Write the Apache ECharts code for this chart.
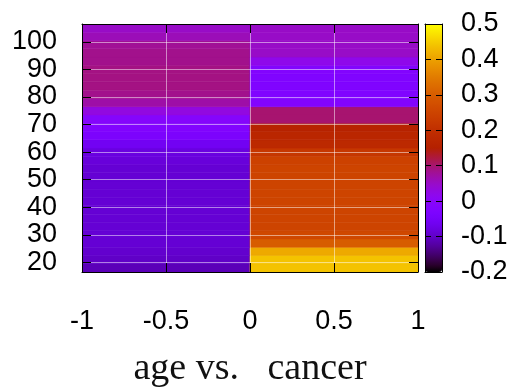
<!DOCTYPE html>
<html>
<head>
<meta charset="utf-8">
<script src="https://cdn.jsdelivr.net/npm/echarts@6/dist/echarts.min.js"></script>
<style>
html,body{margin:0;padding:0;background:#fff;}
#c{width:516px;height:387px;}
</style>
</head>
<body>
<div id="c"></div>
<script>
// ---- data ----
const ageCenters = [18,21,24,27,30,33,36,39,42,45,48,51,54,57,60,63,66,69,72,75,78,81,84,87,90,93,96,99,102,105];
const rowHeight = 3;
// correlation for x in [-1,0] (left column)
const leftValues = [-0.11,-0.10,-0.095,-0.09,-0.09,-0.09,-0.09,-0.09,-0.09,-0.09,-0.09,-0.09,-0.09,-0.085,-0.08,
                    -0.06,-0.035,-0.02,-0.01,0.03,0.07,0.085,0.09,0.09,0.09,0.085,0.085,0.08,0.06,0.05];
// correlation for x in [0,1] (right column)
const rightValues = [0.44,0.44,0.41,0.30,0.26,0.25,0.25,0.25,0.25,0.25,0.25,0.25,0.25,0.245,0.22,
                     0.18,0.17,0.16,0.10,0.10,-0.02,-0.025,-0.025,-0.025,-0.02,0.02,0.05,0.05,0.05,0.05];
const leftColumn = [-1, 0];
const rightColumn = [0, 1];
const yTicks = [20,30,40,50,60,70,80,90,100];
const yRange = [16.5, 106.5];
const xRange = [-1, 1];
const cbRange = [-0.2, 0.5];
const xTitle = 'age vs.   cancer';

// gnuplot default palette (rgbformulae 7,5,15)
function gp(t){
  const r = Math.sqrt(t), g = t*t*t, b = Math.max(0, Math.sin(2*Math.PI*t));
  return 'rgb(' + Math.round(r*255) + ',' + Math.round(g*255) + ',' + Math.round(b*255) + ')';
}
const palette = [];
for (let i = 0; i <= 40; i++) palette.push(gp(i/40));

const cells = [];
ageCenters.forEach((c, i) => {
  cells.push([leftColumn[0], leftColumn[1], c - rowHeight/2, c + rowHeight/2, leftValues[i]]);
  cells.push([rightColumn[0], rightColumn[1], c - rowHeight/2, c + rowHeight/2, rightValues[i]]);
});

const FONT = 'Liberation Sans';
const black = '#000';
const gridLine = {show:true, lineStyle:{color:'rgba(255,255,255,0.5)', width:1}};
const tickIn = (len) => ({show:true, inside:true, length:len, lineStyle:{color:black, width:1}});
const line = {show:true, onZero:false, lineStyle:{color:black, width:1}};

const chart = echarts.init(document.getElementById('c'), null, {renderer:'canvas'});
chart.setOption({
  animation:false,
  backgroundColor:'#fff',
  grid:[
    {left:82, top:24, width:336, height:248, containLabel:false, outerBoundsMode:'none'},
    {left:425, top:24, width:17, height:248, containLabel:false, outerBoundsMode:'none'}
  ],
  xAxis:[
    {gridIndex:0, type:'value', min:xRange[0], max:xRange[1], interval:0.5, position:'bottom', z:5,
     axisLine:line, axisTick:tickIn(9), splitLine:gridLine,
     axisLabel:{margin:36, fontSize:27, fontFamily:FONT, color:black, showMinLabel:true, showMaxLabel:true},
     name:xTitle, nameLocation:'middle', nameGap:78,
     nameTextStyle:{fontFamily:'Liberation Serif', fontSize:38, color:'#111'}},
    {gridIndex:0, type:'value', min:xRange[0], max:xRange[1], interval:0.5, position:'top', z:5,
     axisLine:line, axisTick:tickIn(9), splitLine:{show:false}, axisLabel:{show:false}},
    {gridIndex:1, type:'value', min:0, max:1, position:'bottom', z:6,
     axisLine:line, axisTick:{show:false}, splitLine:{show:false}, axisLabel:{show:false}},
    {gridIndex:1, type:'value', min:0, max:1, position:'top', z:6,
     axisLine:line, axisTick:{show:false}, splitLine:{show:false}, axisLabel:{show:false}}
  ],
  yAxis:[
    {gridIndex:0, type:'value', min:yRange[0], max:yRange[1], position:'left', z:5,
     axisLine:line, axisTick:Object.assign(tickIn(9), {customValues:yTicks}), splitLine:gridLine,
     axisLabel:{customValues:yTicks, margin:25, fontSize:27, fontFamily:FONT, color:black,
                showMinLabel:true, showMaxLabel:true, hideOverlap:false}},
    {gridIndex:0, type:'value', min:yRange[0], max:yRange[1], position:'right', z:5,
     axisLine:line, axisTick:Object.assign(tickIn(9), {customValues:yTicks}), splitLine:{show:false},
     axisLabel:{show:false}},
    {gridIndex:1, type:'value', min:cbRange[0], max:cbRange[1], interval:0.1, position:'left', z:6,
     axisLine:line, axisTick:tickIn(6), splitLine:{show:false}, axisLabel:{show:false}},
    {gridIndex:1, type:'value', min:cbRange[0], max:cbRange[1], interval:0.1, position:'right', z:6,
     axisLine:line, axisTick:tickIn(6), splitLine:{show:false},
     axisLabel:{margin:19, fontSize:27, fontFamily:FONT, color:black, showMinLabel:true, showMaxLabel:true}}
  ],
  visualMap:{
    type:'continuous', min:cbRange[0], max:cbRange[1], dimension:4, seriesIndex:0,
    inRange:{color:palette}, calculable:false, hoverLink:false, orient:'vertical',
    left:425, top:24, itemWidth:17, itemHeight:248, padding:0
  },
  series:[{
    type:'custom', xAxisIndex:0, yAxisIndex:0, z:1, clip:true,
    encode:{x:[0,1], y:[2,3]},
    data:cells,
    renderItem:function(params, api){
      const p0 = api.coord([api.value(0), api.value(3)]);
      const p1 = api.coord([api.value(1), api.value(2)]);
      const col = api.visual('color');
      return {type:'rect',
        shape:{x:p0[0], y:p0[1], width:p1[0]-p0[0], height:p1[1]-p0[1]},
        style:{fill:col, stroke:col, lineWidth:0.6}};
    }
  }]
});
</script>
</body>
</html>
